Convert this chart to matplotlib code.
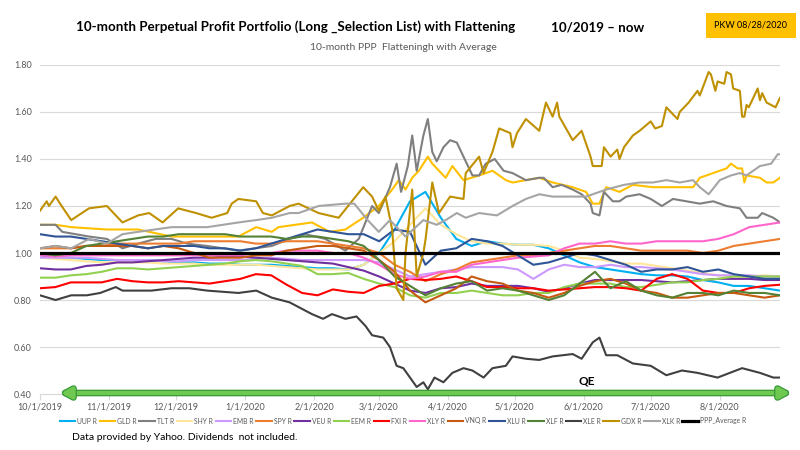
import matplotlib
matplotlib.use('Agg')
import matplotlib.pyplot as plt
import matplotlib.patheffects as pe
from matplotlib.patches import FancyArrowPatch
from matplotlib.ticker import FormatStrFormatter
import pandas as pd

plt.rcParams['font.family'] = ['Lato', 'DejaVu Sans']

start = pd.Timestamp('2019-10-01')
end = pd.Timestamp('2020-08-28')

# weekly readings for the crowded series around 1.00
dates = pd.date_range(start, end, periods=49)

uup = [0.99, 0.98, 0.98, 0.975, 0.97, 0.97, 0.97, 0.97, 0.965, 0.96, 0.96, 0.955, 0.955, 0.95, 0.95, 0.95,
       0.945, 0.94, 0.935, 0.935, 0.93, 0.95, 1.00, 1.10, 1.22, 1.26, 1.15, 1.06, 1.03, 1.05, 1.04, 1.035,
       1.035, 1.02, 0.99, 0.96, 0.94, 0.93, 0.92, 0.91, 0.905, 0.905, 0.90, 0.885, 0.875, 0.86, 0.86, 0.85, 0.84]
shy = [0.98, 0.975, 0.97, 0.965, 0.96, 0.96, 0.96, 0.96, 0.955, 0.955, 0.955, 0.95, 0.95, 0.95, 0.95, 0.945,
       0.94, 0.935, 0.93, 0.93, 0.93, 0.95, 1.00, 1.05, 1.12, 1.19, 1.12, 1.08, 1.05, 1.04, 1.04, 1.035,
       1.035, 1.03, 1.01, 0.98, 0.975, 0.965, 0.955, 0.955, 0.945, 0.935, 0.925, 0.915, 0.905, 0.90, 0.90, 0.905, 0.90]
emb = [0.98, 0.98, 0.98, 0.98, 0.975, 0.97, 0.97, 0.97, 0.965, 0.965, 0.97, 0.97, 0.97, 0.97, 0.975, 0.98,
       0.975, 0.97, 0.97, 0.97, 0.97, 0.97, 0.96, 0.93, 0.90, 0.91, 0.92, 0.93, 0.94, 0.94, 0.94, 0.93,
       0.89, 0.93, 0.95, 0.94, 0.94, 0.95, 0.94, 0.94, 0.935, 0.93, 0.92, 0.91, 0.905, 0.905, 0.905, 0.90, 0.90]
spy = [1.02, 1.02, 1.02, 1.03, 1.03, 1.04, 1.04, 1.04, 1.04, 1.04, 1.05, 1.05, 1.05, 1.05, 1.04, 1.04,
       1.05, 1.05, 1.05, 1.04, 1.03, 1.02, 1.00, 0.95, 0.92, 0.88, 0.91, 0.93, 0.96, 0.97, 0.98, 0.99,
       0.99, 1.00, 1.01, 1.02, 1.03, 1.03, 1.02, 1.01, 1.01, 1.01, 1.01, 1.00, 1.01, 1.03, 1.04, 1.05, 1.06]
veu = [0.935, 0.93, 0.93, 0.945, 0.95, 0.96, 0.96, 0.965, 0.97, 0.975, 0.98, 0.98, 0.985, 0.985, 0.98, 0.975,
       0.97, 0.965, 0.96, 0.955, 0.94, 0.925, 0.90, 0.87, 0.84, 0.83, 0.85, 0.855, 0.87, 0.86, 0.86, 0.86,
       0.85, 0.835, 0.85, 0.87, 0.885, 0.885, 0.885, 0.885, 0.88, 0.875, 0.88, 0.885, 0.89, 0.89, 0.89, 0.885, 0.885]
eem = [0.895, 0.895, 0.905, 0.91, 0.92, 0.935, 0.935, 0.93, 0.935, 0.94, 0.945, 0.95, 0.955, 0.965, 0.97, 0.965,
       0.955, 0.945, 0.91, 0.91, 0.915, 0.89, 0.87, 0.855, 0.82, 0.81, 0.83, 0.83, 0.84, 0.83, 0.82, 0.82,
       0.83, 0.83, 0.855, 0.87, 0.87, 0.87, 0.855, 0.855, 0.865, 0.875, 0.875, 0.885, 0.89, 0.90, 0.90, 0.90, 0.90]
fxi = [0.85, 0.855, 0.875, 0.875, 0.875, 0.89, 0.88, 0.875, 0.875, 0.88, 0.875, 0.87, 0.88, 0.89, 0.91, 0.905,
       0.865, 0.83, 0.82, 0.845, 0.835, 0.83, 0.86, 0.87, 0.89, 0.885, 0.89, 0.90, 0.88, 0.855, 0.855, 0.85,
       0.85, 0.84, 0.845, 0.85, 0.855, 0.855, 0.85, 0.84, 0.89, 0.91, 0.89, 0.84, 0.83, 0.83, 0.85, 0.86, 0.865]
xly = [0.99, 0.985, 0.99, 0.99, 0.99, 0.99, 0.99, 0.99, 0.99, 0.99, 0.99, 0.99, 0.99, 0.99, 1.00, 1.00,
       1.01, 1.01, 1.01, 1.00, 1.00, 0.98, 0.95, 0.91, 0.89, 0.90, 0.92, 0.92, 0.95, 0.96, 0.97, 0.98,
       0.985, 0.99, 1.02, 1.04, 1.04, 1.05, 1.04, 1.04, 1.05, 1.05, 1.05, 1.05, 1.06, 1.08, 1.11, 1.12, 1.13]
vnq = [1.02, 1.03, 1.02, 1.03, 1.03, 1.03, 1.03, 1.02, 1.03, 1.02, 1.00, 0.98, 0.98, 0.98, 0.99, 0.99,
       1.01, 1.02, 1.03, 1.03, 1.02, 1.01, 0.97, 0.92, 0.84, 0.79, 0.82, 0.85, 0.90, 0.88, 0.87, 0.84,
       0.83, 0.81, 0.83, 0.86, 0.88, 0.89, 0.87, 0.84, 0.83, 0.81, 0.81, 0.82, 0.83, 0.83, 0.82, 0.81, 0.82]
xlu = [1.08, 1.07, 1.07, 1.06, 1.05, 1.04, 1.03, 1.02, 1.03, 1.03, 1.03, 1.02, 1.02, 1.01, 1.02, 1.04,
       1.06, 1.08, 1.10, 1.09, 1.08, 1.08, 1.05, 1.10, 1.09, 0.95, 1.01, 1.02, 1.06, 1.05, 1.03, 0.99,
       0.95, 0.96, 0.98, 1.00, 0.99, 0.97, 0.95, 0.92, 0.93, 0.93, 0.94, 0.92, 0.93, 0.91, 0.90, 0.89, 0.89]
xlf = [1.00, 0.99, 1.00, 1.03, 1.04, 1.05, 1.06, 1.07, 1.07, 1.08, 1.08, 1.08, 1.08, 1.07, 1.07, 1.07,
       1.06, 1.07, 1.07, 1.06, 1.05, 1.03, 0.97, 0.90, 0.86, 0.82, 0.85, 0.87, 0.88, 0.84, 0.85, 0.84,
       0.82, 0.80, 0.82, 0.87, 0.92, 0.85, 0.88, 0.84, 0.82, 0.81, 0.83, 0.83, 0.82, 0.84, 0.83, 0.83, 0.82]
ppp_avg = [1.00] * len(dates)  # flattened average sits on 1.00

# denser readings (days after 10/1/2019) for the lines that stand apart
gld_day = [0, 7, 14, 30, 44, 59, 75, 89, 97, 104, 107, 122, 130, 137, 145, 152, 158, 161, 164, 167, 170, 174,
           176, 179, 182, 185, 190, 197, 203, 209, 212, 218, 224, 230, 239, 245, 248, 251, 254, 260, 266, 275,
           281, 287, 293, 296, 302, 308, 310, 313, 315, 316, 317, 323, 326, 329, 332]
gld = [1.12, 1.12, 1.11, 1.10, 1.10, 1.07, 1.07, 1.07, 1.11, 1.09, 1.11, 1.13, 1.09, 1.10, 1.15, 1.20, 1.27,
       1.31, 1.27, 1.32, 1.35, 1.41, 1.38, 1.35, 1.32, 1.37, 1.31, 1.33, 1.35, 1.31, 1.30, 1.31, 1.32, 1.30,
       1.28, 1.26, 1.21, 1.21, 1.28, 1.26, 1.29, 1.28, 1.28, 1.28, 1.28, 1.32, 1.34, 1.36, 1.38, 1.36, 1.36,
       1.30, 1.33, 1.32, 1.30, 1.30, 1.32]
tlt_day = [0, 7, 10, 22, 30, 37, 44, 52, 59, 66, 75, 82, 89, 104, 112, 119, 128, 137, 143, 149, 152, 157,
           160, 162, 165, 167, 169, 172, 174, 176, 178, 181, 184, 187, 190, 194, 197, 200, 204, 208, 212, 218,
           224, 226, 230, 234, 239, 243, 247, 248, 251, 253, 257, 260, 263, 269, 274, 279, 284, 290, 296, 302,
           308, 314, 317, 322, 324, 329, 332]
tlt = [1.12, 1.12, 1.09, 1.07, 1.06, 1.02, 1.04, 1.06, 1.06, 1.04, 1.03, 1.02, 1.01, 1.03, 1.06, 1.08, 1.06,
       1.01, 1.06, 1.20, 1.17, 1.28, 1.38, 1.26, 1.37, 1.50, 1.35, 1.50, 1.57, 1.43, 1.39, 1.45, 1.48, 1.47,
       1.41, 1.33, 1.33, 1.38, 1.40, 1.35, 1.34, 1.31, 1.32, 1.32, 1.28, 1.29, 1.27, 1.25, 1.21, 1.17, 1.16,
       1.26, 1.22, 1.22, 1.24, 1.25, 1.23, 1.20, 1.23, 1.22, 1.21, 1.22, 1.20, 1.19, 1.15, 1.15, 1.17, 1.15, 1.13]
xle_day = [0, 7, 14, 21, 27, 34, 37, 43, 50, 59, 67, 75, 89, 97, 104, 112, 116, 122, 127, 131, 137, 142,
           146, 149, 154, 157, 160, 163, 166, 169, 172, 174, 177, 181, 185, 190, 194, 199, 203, 209, 212, 218,
           224, 230, 239, 243, 248, 251, 254, 259, 266, 274, 281, 288, 295, 304, 315, 323, 329, 332]
xle = [0.82, 0.80, 0.82, 0.82, 0.83, 0.855, 0.84, 0.84, 0.84, 0.85, 0.85, 0.84, 0.83, 0.84, 0.81, 0.79, 0.77,
       0.74, 0.72, 0.74, 0.72, 0.73, 0.69, 0.65, 0.64, 0.60, 0.52, 0.51, 0.47, 0.43, 0.45, 0.42, 0.47, 0.45,
       0.49, 0.51, 0.50, 0.47, 0.51, 0.52, 0.56, 0.55, 0.545, 0.56, 0.57, 0.55, 0.62, 0.64, 0.565, 0.565,
       0.53, 0.52, 0.48, 0.50, 0.49, 0.47, 0.51, 0.49, 0.47, 0.47]
gdx_day = [0, 3, 4, 7, 9, 14, 22, 30, 37, 44, 49, 55, 62, 70, 77, 84, 86, 89, 97, 100, 104, 112, 116, 125,
           134, 145, 149, 152, 155, 158, 160, 163, 164, 167, 169, 172, 173, 176, 179, 184, 190, 191, 197, 199,
           203, 206, 211, 212, 214, 218, 224, 227, 230, 232, 233, 239, 243, 247, 248, 252, 253, 256, 259, 260,
           262, 266, 269, 274, 276, 279, 281, 286, 287, 291, 295, 296, 300, 301, 303, 304, 307, 308, 310, 311,
           314, 315, 316, 317, 318, 322, 323, 324, 326, 330, 331, 332]
gdx = [1.18, 1.22, 1.20, 1.24, 1.21, 1.14, 1.19, 1.20, 1.13, 1.16, 1.17, 1.13, 1.19, 1.17, 1.15, 1.17, 1.21,
       1.23, 1.22, 1.17, 1.16, 1.20, 1.21, 1.17, 1.15, 1.28, 1.24, 1.18, 1.24, 1.10, 0.85, 0.80, 1.00, 1.27,
       0.90, 1.00, 1.06, 1.30, 1.17, 1.24, 1.23, 1.34, 1.41, 1.34, 1.43, 1.53, 1.51, 1.45, 1.51, 1.57, 1.52,
       1.64, 1.58, 1.64, 1.58, 1.48, 1.52, 1.41, 1.37, 1.37, 1.45, 1.41, 1.44, 1.40, 1.45, 1.50, 1.52, 1.56,
       1.53, 1.54, 1.62, 1.57, 1.60, 1.64, 1.69, 1.67, 1.77, 1.76, 1.69, 1.73, 1.72, 1.77, 1.76, 1.70, 1.69,
       1.58, 1.58, 1.63, 1.62, 1.70, 1.65, 1.68, 1.64, 1.62, 1.64, 1.66]
xlk_day = [0, 7, 14, 22, 30, 37, 44, 59, 75, 89, 97, 104, 112, 116, 125, 137, 141, 147, 152, 157, 164, 172,
           178, 182, 187, 191, 197, 205, 212, 218, 224, 230, 239, 245, 248, 254, 262, 269, 275, 281, 287, 293,
           296, 300, 305, 310, 314, 317, 323, 328, 331, 332]
xlk = [1.02, 1.03, 1.02, 1.06, 1.04, 1.08, 1.09, 1.11, 1.11, 1.13, 1.14, 1.15, 1.17, 1.17, 1.20, 1.21, 1.21,
       1.14, 1.09, 1.14, 1.07, 1.14, 1.12, 1.14, 1.17, 1.15, 1.17, 1.16, 1.20, 1.23, 1.25, 1.24, 1.24, 1.24,
       1.25, 1.27, 1.29, 1.30, 1.30, 1.31, 1.30, 1.31, 1.28, 1.25, 1.31, 1.33, 1.34, 1.33, 1.37, 1.38, 1.42, 1.42]

month_ticks = pd.date_range('2019-10-01', '2020-08-01', freq='MS')
y_ticks = [0.40, 0.60, 0.80, 1.00, 1.20, 1.40, 1.60, 1.80]


def on_days(days):
    return start + pd.to_timedelta(days, unit='D')


series = [
    ("UUP R", dates, uup, "#00B0F0"),
    ("GLD R", on_days(gld_day), gld, "#FFC000"),
    ("TLT R", on_days(tlt_day), tlt, "#7F7F7F"),
    ("SHY R", dates, shy, "#FFE699"),
    ("EMB R", dates, emb, "#CC99FF"),
    ("SPY R", dates, spy, "#ED7D31"),
    ("VEU R", dates, veu, "#7030A0"),
    ("EEM R", dates, eem, "#92D050"),
    ("FXI R", dates, fxi, "#FF0000"),
    ("XLY R", dates, xly, "#FF66CC"),
    ("VNQ R", dates, vnq, "#C55A11"),
    ("XLU R", dates, xlu, "#2F5597"),
    ("XLF R", dates, xlf, "#548235"),
    ("XLE R", on_days(xle_day), xle, "#404040"),
    ("GDX R", on_days(gdx_day), gdx, "#BF9000"),
    ("XLK R", on_days(xlk_day), xlk, "#A5A5A5"),
    ("PPP_Average R", dates, ppp_avg, "#000000"),
]

fig = plt.figure(figsize=(8, 4.5), dpi=100)
ax = fig.add_axes([0.05, 0.1244, 0.925, 0.7312])

for name, x, vals, col in series:
    lw = 2.3 if name.startswith("PPP") else 1.5
    ax.plot(x, vals, color=col, lw=lw, label=name, solid_joinstyle='round')

ax.set_xlim(start, end)
ax.set_ylim(0.4, 1.8)
ax.set_yticks(y_ticks)
ax.yaxis.set_major_formatter(FormatStrFormatter('%.2f'))
ax.set_xticks(month_ticks)
ax.set_xticklabels([f"{d.month}/{d.day}/{d.year}" for d in month_ticks])
ax.grid(axis='y', color='#D9D9D9', lw=0.8)
ax.set_axisbelow(True)
for s in ['top', 'right', 'left']:
    ax.spines[s].set_visible(False)
ax.spines['bottom'].set_color('#D9D9D9')
ax.tick_params(axis='x', length=4, color='#D9D9D9', labelsize=6.5, labelcolor='#595959', pad=2)
ax.tick_params(axis='y', length=0, labelsize=6.5, labelcolor='#595959', pad=6)

# QE double arrow along the bottom
arrow = FancyArrowPatch((58 / 800, 1 - 393 / 450), (793 / 800, 1 - 393 / 450), transform=fig.transFigure,
                        arrowstyle='<|-|>,head_length=0.6,head_width=0.32', mutation_scale=10,
                        color='#6FC950', lw=3, zorder=5,
                        path_effects=[pe.Stroke(linewidth=4.8, foreground='#3A9A3A'), pe.Normal()])
fig.add_artist(arrow)
fig.text(587 / 800, 1 - 381 / 450, "QE", fontsize=8.5, fontweight='bold', ha='center', va='center')

# titles
fig.text(296 / 800, 1 - 27 / 450, "10-month Perpetual Profit Portfolio (Long _Selection List) with Flattening",
         fontsize=9.6, fontweight='bold', ha='center', va='center')
fig.text(598 / 800, 1 - 27 / 450, "10/2019 \u2013 now", fontsize=9.6, fontweight='bold', ha='center', va='center')
fig.text(403 / 800, 1 - 47 / 450, "10-month PPP  Flatteningh with Average", fontsize=7.5, color='#595959',
         ha='center', va='center')
fig.text(751 / 800, 1 - 25.5 / 450, "PKW 08/28/2020", fontsize=6.5, ha='center', va='center',
         bbox=dict(boxstyle='square,pad=0.9', fc='#FFC000', ec='none'))

fig.legend(loc='center', bbox_to_anchor=(403 / 800, 1 - 421 / 450), ncol=17, frameon=False,
           fontsize=4.9, handlelength=2.3, handletextpad=0.3, columnspacing=0.35, labelcolor='#595959')

fig.text(72 / 800, 1 - 437 / 450, "Data provided by Yahoo. Dividends  not included.", fontsize=7.5,
         ha='left', va='center')

fig.savefig('out.png', dpi=100)
